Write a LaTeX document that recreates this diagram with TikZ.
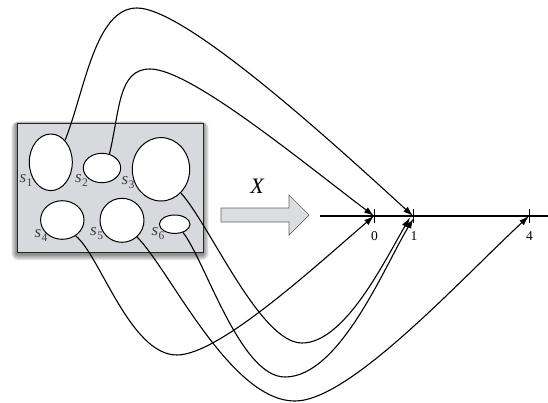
\documentclass[tikz,border=0pt]{standalone}
\usepackage{fontspec}
\setmainfont{Liberation Serif}
\usetikzlibrary{arrows.meta,shapes.geometric}

\definecolor{boxgray}{HTML}{D8D9DC}
\definecolor{arrowgray}{HTML}{DCDDDF}

\tikzset{
  region/.style={ellipse, draw=black, fill=white, line width=1pt, inner sep=0pt},
  slabel/.style={text=black!75, font=\fontsize{17}{17}\selectfont\itshape, inner sep=0pt},
  map/.style={line width=1.1pt, -{Latex[length=10pt,width=6.5pt]}},
  tickmark/.style={line width=1pt},
  ticklabel/.style={font=\fontsize{13.5}{13.5}\selectfont, inner sep=0pt},
}

% italic s with an upright lowered index
\newcommand{\sname}[1]{s\kern0.6pt\raisebox{-4pt}{\fontsize{11.5}{11.5}\selectfont\upshape #1}}

\begin{document}
\begin{tikzpicture}[x=1pt, y=-1pt]
  \useasboundingbox (0,0) rectangle (548,402);

  % soft shadow under the sample-space box
  \foreach \i in {1,...,7}
    \fill[black, opacity=0.08, rounded corners=\i pt]
      (17-\i*0.8, 124-\i*0.4) rectangle (203+\i*0.8, 254+\i*0.9);

  % sample space
  \draw[fill=boxgray, draw=black!85, line width=0.8pt] (17,123) rectangle (203,252);

  % events
  \node[region, minimum width=43pt,   minimum height=56.6pt] (s1) at (50.8,162.3) {};
  \node[region, minimum width=37.4pt, minimum height=29.4pt] (s2) at (102,168) {};
  \node[region, minimum width=57.4pt, minimum height=63.4pt] (s3) at (161,169.3) {};
  \node[region, minimum width=43.4pt, minimum height=38.6pt] (s4) at (62.3,220) {};
  \node[region, minimum width=44pt,   minimum height=44pt]   (s5) at (122,220.3) {};
  \node[region, minimum width=30.6pt, minimum height=18.4pt] (s6) at (174.7,224.2) {};

  \node[slabel] (l1) at (26,180)    {\sname{1}};
  \node[slabel] (l2) at (81.5,180)  {\sname{2}};
  \node[slabel] (l3) at (128,182.5) {\sname{3}};
  \node[slabel] (l4) at (41,235.5)  {\sname{4}};
  \node[slabel] (l5) at (96.7,234)  {\sname{5}};
  \node[slabel] (l6) at (158,234)   {\sname{6}};

  % the mapping arrow
  \draw[fill=arrowgray, draw=black!60, line width=0.7pt]
    (221,208) -- (289,208) -- (289,195) -- (309,215) -- (289,235) -- (289,222) -- (221,222) -- cycle;
  \node[font=\fontsize{22}{22}\selectfont\itshape, inner sep=0pt] (xl) at (257,186) {X};

  % real line
  \coordinate (axl) at (320,216);
  \coordinate (axr) at (548,216);
  \coordinate (t0) at (374,216);
  \coordinate (t1) at (413,216);
  \coordinate (t4) at (529,216);
  \coordinate (t1a) at (410,217.5);
  \coordinate (t1b) at (413.5,218.5);
  \draw[line width=1.3pt] (axl) -- (axr);
  \foreach \t in {t0,t1,t4}
    \draw[tickmark] (\t) ++(0,-7) -- ++(0,14);
  \node[ticklabel] (n0) at (374.5,236) {0};
  \node[ticklabel] (n1) at (414,236)   {1};
  \node[ticklabel] (n4) at (529.5,236) {4};

  % outcomes mapped to values
  \draw[map] (s1.57) .. controls (85,90) and (95,8) .. (137,8)
                     .. controls (185,8) and (330,140) .. (t1);
  \draw[map] (s2.62) .. controls (120,110) and (118,69) .. (150,69)
                     .. controls (190,69) and (300,160) .. (t0);
  \draw[map] (s4.-50) .. controls (100,255) and (130,355) .. (177,355)
                      .. controls (220,355) and (320,262) .. (t0);
  \draw[map] (s5.-48) .. controls (170,270) and (230,401) .. (295,401)
                      .. controls (350,401) and (460,280) .. (t4);
  \draw[map] (s6.-45) .. controls (205,260) and (240,377) .. (285,377)
                      .. controls (340,377) and (385,265) .. (t1b);
  \draw[map] (s3.-50) .. controls (210,225) and (260,343) .. (302,343)
                      .. controls (345,343) and (385,260) .. (t1a);
\end{tikzpicture}
\end{document}
